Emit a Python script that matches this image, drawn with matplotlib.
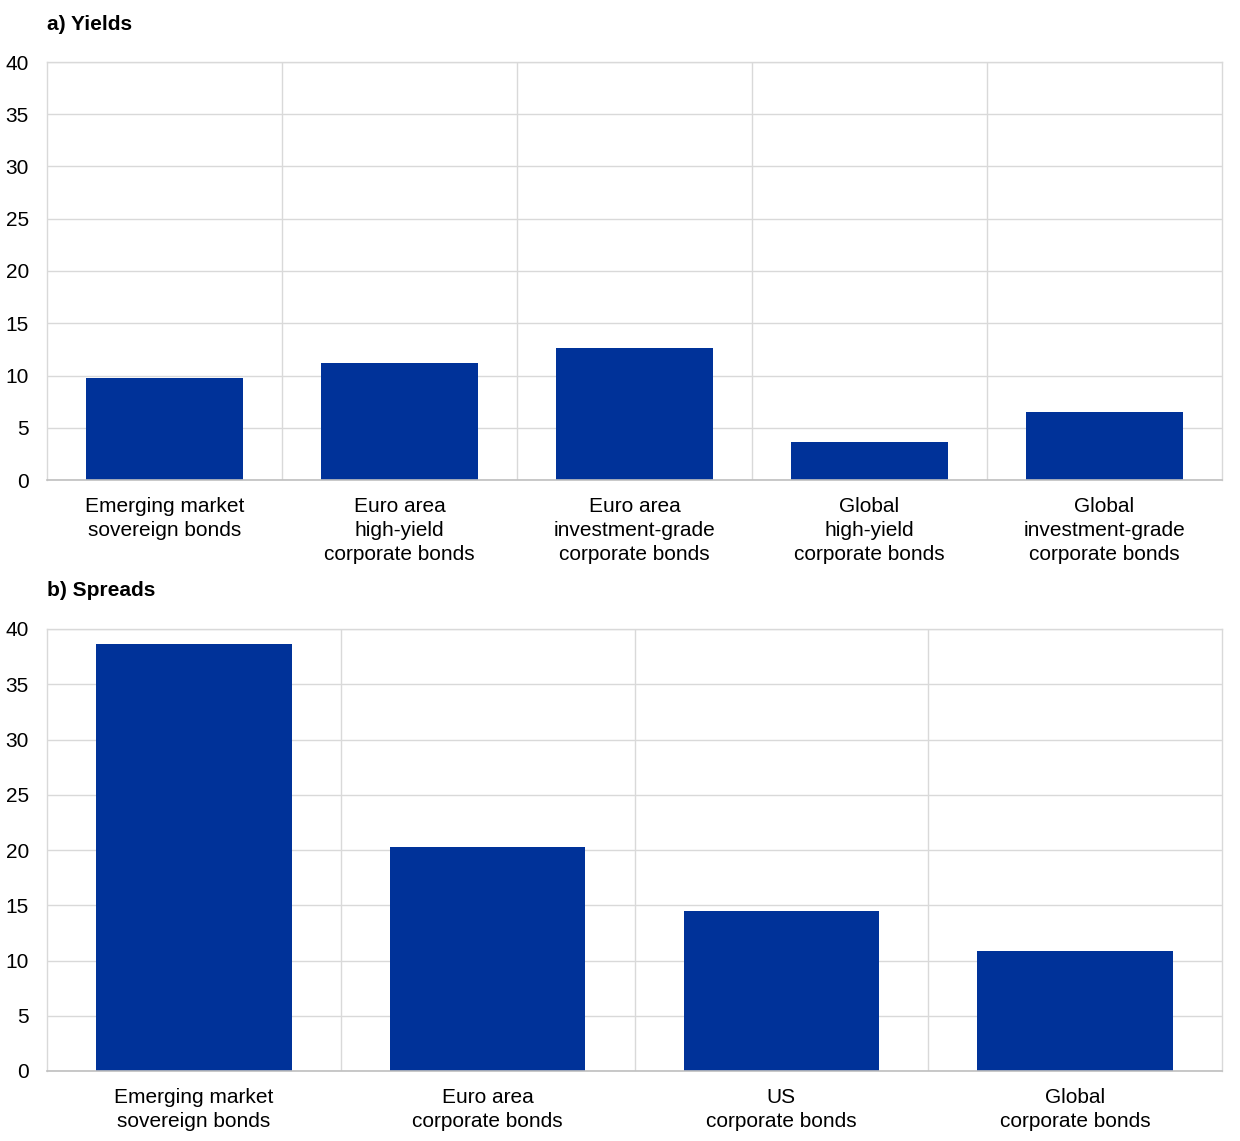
import matplotlib.pyplot as plt

plt.rcParams['font.family'] = ['Liberation Sans', 'DejaVu Sans']

# panel a) yields
yield_labels = ["Emerging market\nsovereign bonds",
                "Euro area\nhigh-yield\ncorporate bonds",
                "Euro area\ninvestment-grade\ncorporate bonds",
                "Global\nhigh-yield\ncorporate bonds",
                "Global\ninvestment-grade\ncorporate bonds"]
yield_values = [9.8, 11.2, 12.6, 3.6, 6.5]

# panel b) spreads
spread_labels = ["Emerging market\nsovereign bonds",
                 "Euro area\ncorporate bonds",
                 "US\ncorporate bonds",
                 "Global\ncorporate bonds"]
spread_values = [38.6, 20.3, 14.5, 10.9]

y_ticks = [0, 5, 10, 15, 20, 25, 30, 35, 40]

BAR_COLOR = "#003299"
GRID_COLOR = "#d9d9d9"
FS = 15

fig = plt.figure(figsize=(12.4, 11.41), dpi=100)
W, H = 1240, 1141


def add_panel(left, top, right, bottom, labels, values, title):
    ax = fig.add_axes([left / W, 1 - bottom / H, (right - left) / W, (bottom - top) / H])
    n = len(values)
    x = range(n)
    ax.bar(x, values, width=0.665, color=BAR_COLOR, zorder=3)
    ax.set_xlim(-0.5, n - 0.5)
    ax.set_ylim(0, 40)
    ax.set_yticks(y_ticks)
    ax.set_yticklabels([str(t) for t in y_ticks], fontsize=FS)
    ax.set_xticks(list(x))
    ax.set_xticklabels(labels, fontsize=FS, linespacing=1.32)
    ax.tick_params(axis='x', length=0, pad=12.5)
    ax.tick_params(axis='y', length=0, pad=13)
    ax.yaxis.grid(True, color=GRID_COLOR, linewidth=1, zorder=0)
    for b in range(1, n):
        ax.axvline(b - 0.5, color=GRID_COLOR, linewidth=1, zorder=0)
    for s in ['top', 'right', 'left']:
        ax.spines[s].set_color(GRID_COLOR)
        ax.spines[s].set_linewidth(1)
    ax.spines['bottom'].set_color('#bfbfbf')
    ax.spines['bottom'].set_linewidth(1.2)
    ax.spines['bottom'].set_zorder(4)
    fig.text(47 / W, 1 - (top - 38) / H, title, fontsize=FS, fontweight='bold',
             ha='left', va='center')
    return ax


add_panel(47, 62, 1222, 480, yield_labels, yield_values, "a) Yields")
add_panel(47, 629, 1222, 1071, spread_labels, spread_values, "b) Spreads")

fig.savefig("out.png", dpi=100)
